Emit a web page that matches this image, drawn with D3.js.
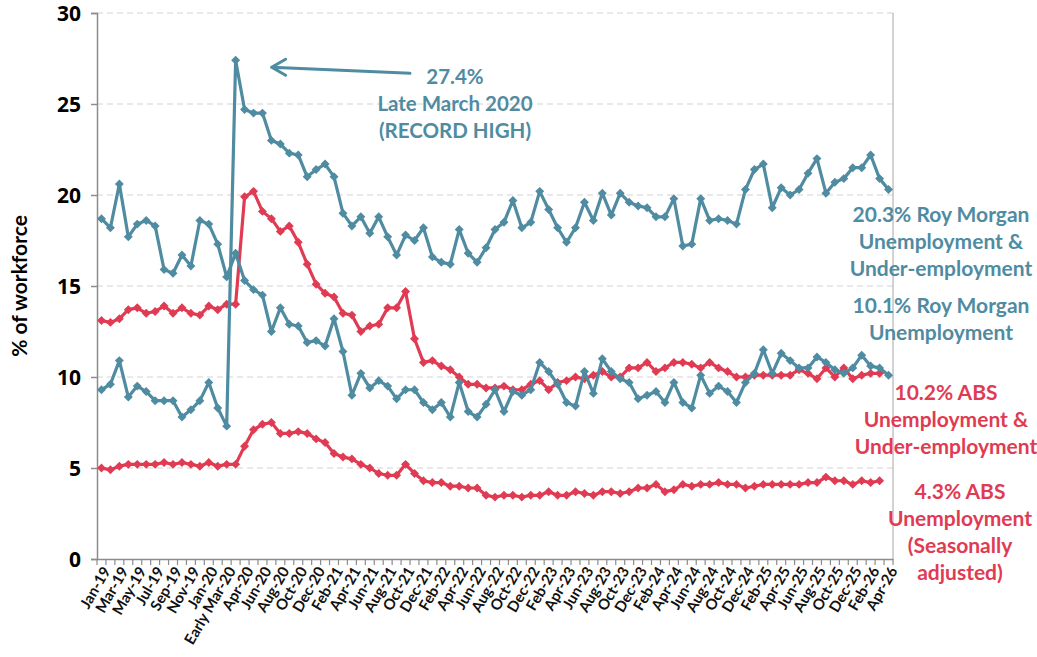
<!DOCTYPE html>
<html>
<head>
<meta charset="utf-8">
<script src="https://cdn.jsdelivr.net/npm/d3@7"></script>
<style>
  body { margin: 0; background: #fff; }
  text { font-family: Lato, "Open Sans", sans-serif; font-weight: bold; }
</style>
</head>
<body>
<svg id="chart" width="1037" height="657"></svg>
<script>
// categories: monthly Jan-19 .. Apr-26, March 2020 split into early / late
var monthNames = ["Jan","Feb","Mar","Apr","May","Jun","Jul","Aug","Sep","Oct","Nov","Dec"];
var categories = [];
for (var yr = 19; yr <= 26; yr++) {
  monthNames.forEach(function(m, mi) {
    if (yr == 26 && mi > 3) return;
    if (yr == 20 && m == "Mar") {
      categories.push("Early Mar-20");
      categories.push("Late Mar-20");
    } else {
      categories.push(m + "-" + yr);
    }
  });
}

// Roy Morgan lines as drawn (the two lines cross over at Late Mar-20)
var rmUnemp = [18.7,18.2,20.6,17.7,18.4,18.6,18.3,15.9,15.7,16.7,16.1,18.6,18.4,17.3,15.5,16.8,
  15.3,14.8,14.5,12.5,13.8,12.9,12.8,11.9,12.0,11.7,13.2,11.4,9.0,10.2,9.4,9.8,9.5,8.8,9.3,9.3,
  8.6,8.2,8.6,7.8,9.7,8.1,7.8,8.5,9.3,8.1,9.2,9.0,9.3,10.8,10.3,9.6,8.6,8.4,10.3,9.1,11.0,10.3,
  9.9,9.7,8.8,9.0,9.2,8.6,9.7,8.6,8.3,10.1,9.1,9.5,9.2,8.6,9.7,10.2,11.5,10.2,11.3,10.9,10.5,
  10.5,11.1,10.8,10.4,10.2,10.5,11.2,10.6,10.5,10.1];

var rmUnderUnemp = [9.3,9.6,10.9,8.9,9.5,9.2,8.7,8.7,8.7,7.8,8.2,8.7,9.7,8.3,7.3,27.4,
  24.7,24.5,24.5,23.0,22.8,22.3,22.2,21.0,21.4,21.7,21.0,19.0,18.3,18.8,17.9,18.8,17.7,16.7,
  17.8,17.5,18.2,16.6,16.3,16.2,18.1,16.8,16.3,17.1,18.1,18.5,19.7,18.2,18.5,20.2,19.2,18.2,
  17.4,18.2,19.6,18.6,20.1,18.9,20.1,19.6,19.4,19.3,18.8,18.8,19.8,17.2,17.3,19.8,18.6,18.7,
  18.6,18.4,20.3,21.4,21.7,19.3,20.4,20.0,20.3,21.2,22.0,20.1,20.7,20.9,21.5,21.5,22.2,20.9,20.3];

// ABS series (no Apr-26 value yet)
var absUnderUnemp = [13.1,13.0,13.2,13.7,13.8,13.5,13.6,13.9,13.5,13.8,13.5,13.4,13.9,13.7,14.0,14.0,
  19.9,20.2,19.1,18.7,18.0,18.3,17.4,16.2,15.1,14.6,14.4,13.5,13.4,12.5,12.8,12.9,13.8,13.8,
  14.7,12.1,10.8,10.9,10.6,10.4,10.0,9.6,9.6,9.4,9.4,9.5,9.3,9.3,9.6,9.8,9.3,9.7,9.8,10.0,9.9,
  10.1,10.3,10.0,10.0,10.5,10.5,10.8,10.3,10.5,10.8,10.8,10.7,10.5,10.8,10.5,10.3,10.0,10.0,
  10.1,10.1,10.1,10.1,10.1,10.4,10.2,9.9,10.5,10.0,10.5,9.9,10.1,10.2,10.2,null];

var absUnemp = [5.0,4.9,5.1,5.2,5.2,5.2,5.2,5.3,5.2,5.3,5.2,5.1,5.3,5.1,5.2,5.2,
  6.2,7.1,7.4,7.5,6.9,6.9,7.0,6.9,6.6,6.4,5.8,5.6,5.5,5.2,5.0,4.7,4.6,4.6,5.2,4.7,4.3,4.2,
  4.2,4.0,4.0,3.9,3.9,3.5,3.4,3.5,3.5,3.4,3.5,3.5,3.7,3.5,3.5,3.7,3.6,3.5,3.7,3.7,3.6,3.7,
  3.9,3.9,4.1,3.7,3.8,4.1,4.0,4.1,4.1,4.2,4.1,4.1,3.9,4.0,4.1,4.1,4.1,4.1,4.1,4.2,4.2,4.5,
  4.3,4.3,4.1,4.3,4.2,4.3,null];

var yTicks = [0, 5, 10, 15, 20, 25, 30];

var teal = "#4f8ba1", red = "#e03b53";

var svg = d3.select("#chart");
var x = d3.scaleBand().domain(categories).range([97, 893]);
var y = d3.scaleLinear().domain([0, 30]).range([559, 13]);
var cx = function(i) { return x(categories[i]) + x.bandwidth() / 2; };

// gridlines
svg.append("g").selectAll("line")
  .data(yTicks.filter(function(t) { return t > 0; }))
  .enter().append("line")
    .attr("x1", 97).attr("x2", 893)
    .attr("y1", function(d) { return y(d); }).attr("y2", function(d) { return y(d); })
    .attr("stroke", "#d4d4d4").attr("stroke-width", 1.2).attr("stroke-dasharray", "6,4");

// y axis
var yAxis = svg.append("g").attr("transform", "translate(97,0)")
  .call(d3.axisLeft(y).tickValues(yTicks).tickSize(6).tickPadding(10));
yAxis.select(".domain").attr("stroke", "#8c8c8c").attr("stroke-width", 1.5);
yAxis.selectAll(".tick line").attr("stroke", "#8c8c8c").attr("stroke-width", 1.5);
yAxis.selectAll(".tick text").style("font-size", "21px").attr("fill", "#000")
  .attr("dy", "0.36em")
  .style("font-family", "'Open Sans', sans-serif");

// right border
svg.append("line").attr("x1", 893).attr("x2", 893).attr("y1", 13).attr("y2", 559)
  .attr("stroke", "#a6a6a6").attr("stroke-width", 1);

// x axis: ticks between categories, labels on every other one
var xAxis = svg.append("g").attr("transform", "translate(0,559)")
  .call(d3.axisBottom(x)
    .tickValues(categories.filter(function(d, i) { return i % 2 == 0; }))
    .tickSize(0));
xAxis.select(".domain").attr("stroke", "#8c8c8c").attr("stroke-width", 1.5);
xAxis.selectAll(".tick text")
  .attr("text-anchor", "end")
  .attr("transform", "translate(5,9) rotate(-60)")
  .attr("dy", "0.35em").attr("y", 0)
  .style("font-size", "15px").attr("fill", "#111");
var bounds = categories.map(function(c) { return x(c); }).concat([893]);
svg.append("g").selectAll("line").data(bounds).enter().append("line")
  .attr("x1", function(d) { return d; }).attr("x2", function(d) { return d; })
  .attr("y1", 559).attr("y2", 565)
  .attr("stroke", "#8c8c8c").attr("stroke-width", 1.2);

// y title
svg.append("text")
  .attr("transform", "translate(27,286) rotate(-90)")
  .attr("text-anchor", "middle")
  .style("font-size", "21px")
  .text("% of workforce");

// series
var series = [
  { values: absUnemp, color: red },
  { values: absUnderUnemp, color: red },
  { values: rmUnemp, color: teal },
  { values: rmUnderUnemp, color: teal }
];
var line = d3.line()
  .defined(function(d) { return d != null; })
  .x(function(d, i) { return cx(i); })
  .y(function(d) { return y(d); });
var diamond = d3.symbol().type(d3.symbolSquare).size(40);

series.forEach(function(s) {
  var g = svg.append("g");
  g.append("path").attr("d", line(s.values))
    .attr("fill", "none").attr("stroke", s.color).attr("stroke-width", 3.2)
    .attr("stroke-linejoin", "round");
  g.selectAll("path.pt")
    .data(s.values.map(function(v, i) { return { v: v, i: i }; }).filter(function(d) { return d.v != null; }))
    .enter().append("path").attr("class", "pt")
    .attr("d", diamond)
    .attr("transform", function(d) { return "translate(" + cx(d.i) + "," + y(d.v) + ") rotate(45)"; })
    .attr("fill", s.color);
});

// record-high annotation
var peakIdx = rmUnderUnemp.indexOf(d3.max(rmUnderUnemp));
var tipX = cx(peakIdx) + 36, tipY = y(d3.max(rmUnderUnemp)) + 7;
svg.append("path")
  .attr("d", "M410," + (tipY + 6) + "L" + tipX + "," + tipY +
             "M" + (tipX + 14) + "," + (tipY - 8) + "L" + tipX + "," + tipY + "L" + (tipX + 14) + "," + (tipY + 8))
  .attr("fill", "none").attr("stroke", teal).attr("stroke-width", 3)
  .attr("stroke-linejoin", "round").attr("stroke-linecap", "round");
var note = svg.append("text").attr("fill", teal).attr("text-anchor", "middle").style("font-size", "20.5px");
["27.4%", "Late March 2020", "(RECORD HIGH)"].forEach(function(t, k) {
  note.append("tspan").attr("x", 455).attr("y", 84 + k * 27).text(t);
});

// end labels
var endLabels = [
  { lines: ["20.3% Roy Morgan", "Unemployment &", "Under-employment"], color: teal, x: 941, y: 222 },
  { lines: ["10.1% Roy Morgan", "Unemployment"], color: teal, x: 941, y: 313 },
  { lines: ["10.2% ABS", "Unemployment &", "Under-employment"], color: red, x: 946, y: 400 },
  { lines: ["4.3% ABS", "Unemployment", "(Seasonally", "adjusted)"], color: red, x: 960, y: 499 }
];
endLabels.forEach(function(l) {
  var t = svg.append("text").attr("fill", l.color).attr("text-anchor", "middle").style("font-size", "21px");
  l.lines.forEach(function(s, k) {
    t.append("tspan").attr("x", l.x).attr("y", l.y + k * 27).text(s);
  });
});
</script>
</body>
</html>
